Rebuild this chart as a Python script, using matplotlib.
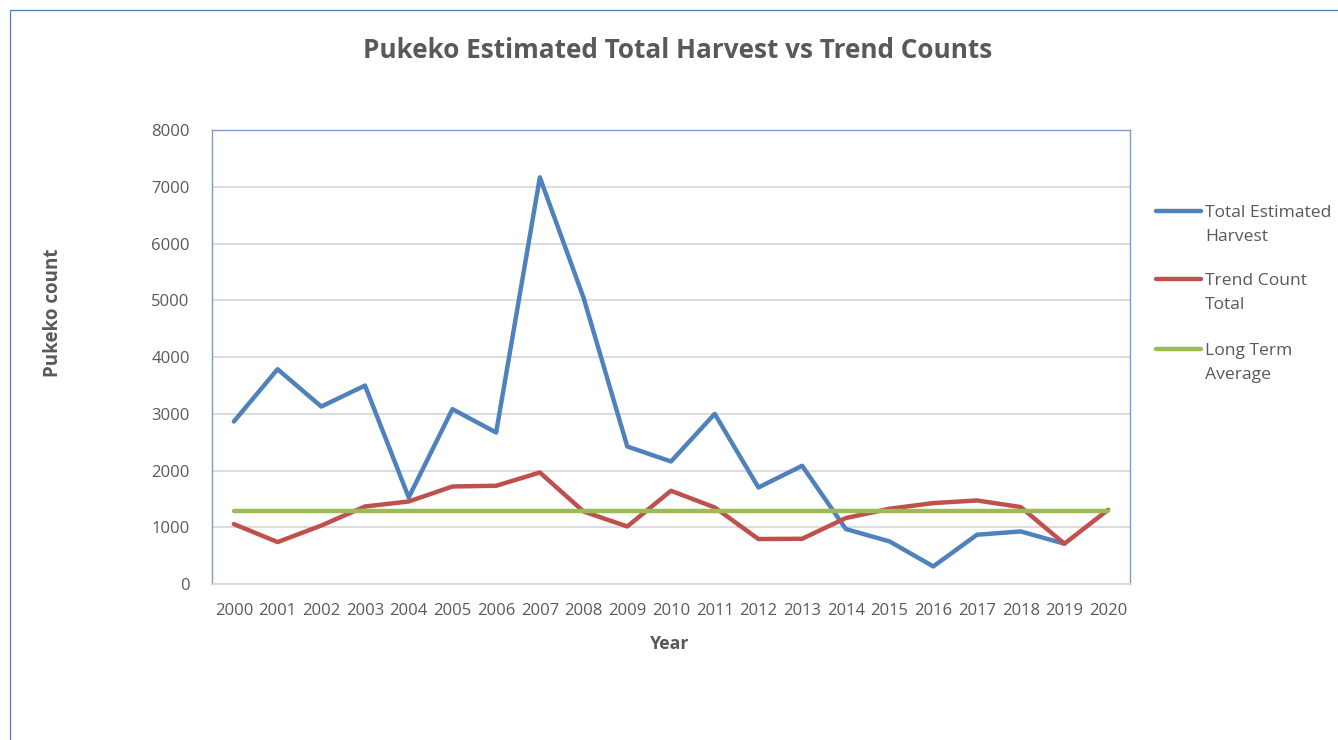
import matplotlib
matplotlib.use("Agg")
import matplotlib.pyplot as plt
from matplotlib.lines import Line2D
from matplotlib.patches import Rectangle
import numpy as np

years = [str(y) for y in range(2000, 2021)]
harvest = [2863, 3785, 3127, 3497, 1525, 3081, 2669, 7165, 5044, 2423, 2159,
           2998, 1701, 2083, 968, 750, 310, 868, 926, 710, np.nan]
trend = [1056, 739, 1030, 1366, 1454, 1718, 1731, 1965, 1278, 1014, 1643,
         1349, 792, 797, 1162, 1326, 1426, 1472, 1356, 710, 1308]
long_term_avg = [1278] * 21
series_names = ["Total Estimated\nHarvest", "Trend Count\nTotal", "Long Term\nAverage"]
colors = ["#4F81BD", "#C0504D", "#9BBB59"]

plt.rcParams['font.family'] = ['Open Sans', 'DejaVu Sans']
txt = "#595959"

W, H = 1338, 740
fig = plt.figure(figsize=(W / 100, H / 100), dpi=100)

# outer chart border (top & left visible)
fig.add_artist(Rectangle((10 / W, -0.1), 1.2, 1 - 10 / H + 0.1, transform=fig.transFigure,
                         fill=False, edgecolor="#4A7EBB", lw=0.9))

ax = fig.add_axes([212 / W, 1 - 584 / H, (1130 - 212) / W, (584 - 130) / H])
x = np.arange(len(years))
for vals, c in zip([harvest, trend, long_term_avg], colors):
    ax.plot(x, vals, color=c, lw=3.2, solid_capstyle="round", solid_joinstyle="round")

ax.set_xlim(-0.5, len(years) - 0.5)
ax.set_ylim(0, 8000)
ax.set_yticks(np.arange(0, 8001, 1000))
ax.set_xticks(x)
ax.set_xticklabels(years)
ax.tick_params(axis="both", length=0, labelcolor=txt, labelsize=12)
ax.tick_params(axis="x", pad=14)
ax.tick_params(axis="y", pad=16)
ax.grid(axis="y", color="#D9D9D9", lw=1.3)
ax.set_axisbelow(True)
for s in ["left", "right", "top"]:
    ax.spines[s].set_color("#7A9CCB")
    ax.spines[s].set_linewidth(1.0)
ax.spines["bottom"].set_color("#D9D9D9")
ax.spines["bottom"].set_linewidth(1.3)

fig.text(678 / W, 1 - 50 / H, "Pukeko Estimated Total Harvest vs Trend Counts",
         ha="center", va="center", fontsize=18.8, fontweight="bold", color=txt)
fig.text(670 / W, 1 - 644 / H, "Year", ha="center", va="center",
         fontsize=12.8, fontweight="bold", color=txt)
fig.text(53 / W, 1 - 313 / H, "Pukeko count", ha="center", va="center", rotation=90,
         fontsize=13.5, fontweight="bold", color=txt)

# legend
leg_y = [211, 279, 349]
for name, c, yy in zip(series_names, colors, leg_y):
    fig.add_artist(Line2D([1156 / W, 1201 / W], [1 - yy / H] * 2, transform=fig.transFigure,
                          color=c, lw=3.2, solid_capstyle="round"))
    fig.text(1205 / W, 1 - (yy - 6) / H, name, ha="left", va="top", fontsize=12.6,
             color=txt, linespacing=1.7)

fig.savefig("out.png", dpi=100)
